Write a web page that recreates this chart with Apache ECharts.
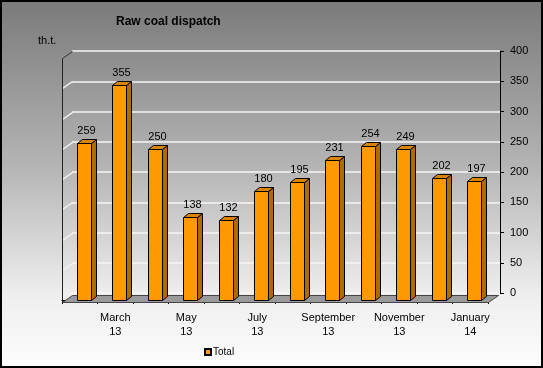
<!DOCTYPE html>
<html>
<head>
<meta charset="utf-8">
<script src="https://cdn.jsdelivr.net/npm/echarts@6/dist/echarts.min.js"></script>
<style>
html,body{margin:0;padding:0;background:#fff;}
#c{width:543px;height:368px;}
</style>
</head>
<body>
<div id="c"></div>
<script>
const categories = ['February\n13','March\n13','April\n13','May\n13','June\n13','July\n13','August\n13','September\n13','October\n13','November\n13','December\n13','January\n14'];
const totals = [259,355,250,138,132,180,195,231,254,249,202,197];
const yTicks = [0,50,100,150,200,250,300,350,400];
const seriesName = 'Total';
const unitLabel = 'th.t.';
const titleText = 'Raw coal dispatch';

const DX = 10, DY = -7;      // wall depth
const BDX = 5, BDY = -4;     // bar depth
const FONT = '"Liberation Sans", Arial, sans-serif';

const chart = echarts.init(document.getElementById('c'), null, {renderer:'canvas'});

function renderBar(params, api){
  const i = api.value(0), v = api.value(1);
  const top = api.coord([i, v]);
  const base = api.coord([i, 0]);
  const cw = api.size([1,0])[0];
  const w = Math.round(cw*0.4);
  const x0 = Math.round(top[0] - w/2 + cw*0.11) + 0.5;
  const x1 = x0 + w;
  const yt = Math.round(top[1]) + 0.5;
  const yb = Math.round(base[1]) + 0.5;
  const st = {stroke:'#000', lineWidth:1};
  return {type:'group', children:[
    {type:'polygon', shape:{points:[[x1,yt],[x1+BDX,yt+BDY],[x1+BDX,yb+BDY],[x1,yb]]}, style:Object.assign({fill:'#B06A00'},st)},
    {type:'polygon', shape:{points:[[x0,yt],[x1,yt],[x1+BDX,yt+BDY],[x0+BDX,yt+BDY]]}, style:Object.assign({fill:'#D88400'},st)},
    {type:'rect', shape:{x:x0,y:yt,width:w,height:yb-yt}, style:Object.assign({fill:'#FF9900'},st)},
    {type:'text', x:(x0+x1)/2+2, y:yt+BDY-3, style:{text:String(v), textAlign:'center', textVerticalAlign:'bottom', font:'11px '+FONT, fill:'#000'}}
  ]};
}

function renderDecor(params, api){
  const cw = api.size([1,0])[0];
  const n = categories.length;
  const p0 = api.coord([0, 0]);
  const pN = api.coord([n-1, 0]);
  const xl = Math.round(p0[0] - cw/2) + 0.5;
  const xr = Math.round(pN[0] + cw/2) + 0.5;
  const y0 = Math.round(p0[1]) + 0.5;
  const yTop = Math.round(api.coord([0, yTicks[yTicks.length-1]])[1]) + 0.5;
  const ch = [];
  yTicks.forEach(function(t, k){
    if (k === 0) return;
    const y = Math.round(api.coord([0, t])[1]) + 0.5;
    ch.push({type:'line', shape:{x1:xl, y1:y, x2:xl+DX, y2:y+DY}, style:{stroke: k===yTicks.length-1 ? '#333' : '#f4f4f4', lineWidth: k===yTicks.length-1 ? 1 : 1.5}});
  });
  ch.push({type:'line', shape:{x1:xl, y1:yTop, x2:xl, y2:y0}, style:{stroke:'#222', lineWidth:1}});
  ch.push({type:'polygon', shape:{points:[[xl,y0+2],[xr,y0+2],[xr+DX,y0+2+DY],[xl+DX,y0+2+DY]]}, style:{fill:'#9a9a9a', stroke:'#444', lineWidth:1}});
  return {type:'group', children:ch};
}

const option = {
  animation:false,
  backgroundColor:{type:'linear', x:0, y:0, x2:0, y2:1, colorStops:[
    {offset:0, color:'#7a7a7a'},{offset:0.45, color:'#b4b4b4'},{offset:0.8, color:'#eeeeee'},{offset:1, color:'#fdfdfd'}]},
  title:{text:titleText, left:111, top:11, textStyle:{fontFamily:FONT, fontSize:12, fontWeight:'bold', color:'#000'}},
  legend:{data:[seriesName], left:199, top:342, itemWidth:6, itemHeight:6, itemGap:4, icon:'rect',
    textStyle:{fontFamily:FONT, fontSize:10, color:'#000', padding:[0,0,0,-3]}},
  graphic:[
    {type:'text', left:38, top:35, style:{text:unitLabel, font:'11px '+FONT, fill:'#000'}},
    {type:'rect', shape:{x:1, y:1, width:541, height:366}, style:{fill:'none', stroke:'#000', lineWidth:2}, z:100}
  ],
  grid:[
    {left:62, right:55, top:58, bottom:68},
    {left:72, right:43, top:51, bottom:75}
  ],
  xAxis:[
    {type:'category', gridIndex:0, data:categories, boundaryGap:true, offset:3,
     axisLine:{lineStyle:{color:'#000', width:1}},
     axisTick:{show:true, length:4, interval:0, alignWithLabel:false, lineStyle:{color:'#000'}},
     axisLabel:{interval:function(i){return i%2===1;}, margin:8, fontFamily:FONT, fontSize:11, color:'#000', lineHeight:14}},
    {type:'category', gridIndex:1, data:categories, show:false}
  ],
  yAxis:[
    {type:'value', gridIndex:0, min:0, max:400, interval:50, show:false},
    {type:'value', gridIndex:1, min:0, max:400, interval:50, position:'right',
     axisLine:{show:true, lineStyle:{color:'#000', width:1}},
     axisTick:{show:true, length:4, inside:false, lineStyle:{color:'#000'}},
     axisLabel:{margin:10, fontFamily:FONT, fontSize:11, color:'#000'},
     splitLine:{show:true, lineStyle:{color:'#f6f6f6', width:1.5}}}
  ],
  series:[
    {type:'custom', name:'decor', xAxisIndex:0, yAxisIndex:0, data:[[0,0]], renderItem:renderDecor, silent:true, z:1},
    {type:'custom', name:seriesName, xAxisIndex:0, yAxisIndex:0,
     itemStyle:{color:'#FF9900', borderColor:'#000', borderWidth:1},
     data: totals.map(function(v,i){return [i,v];}), renderItem:renderBar, z:3}
  ]
};
chart.setOption(option);
</script>
</body>
</html>
